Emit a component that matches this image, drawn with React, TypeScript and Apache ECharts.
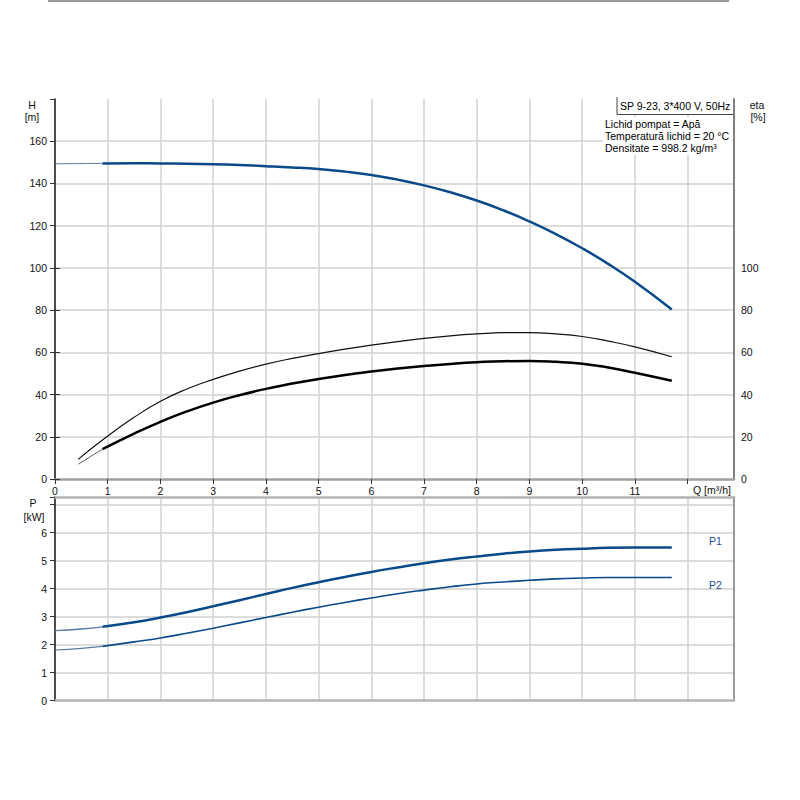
import React, { useEffect, useRef } from 'react';
import * as echarts from 'echarts';

// Flow values (m³/h) where the curves were read; curves drawn thick from 0.9 m³/h on
const THICK_FROM = 0.9;

const Q_H = [0, 0.9, 1.5, 2, 2.5, 3, 3.5, 4, 4.5, 5, 5.5, 6, 6.5, 7, 7.5, 8, 8.5, 9, 9.5, 10, 10.5, 11, 11.7];
const H = [149.3, 149.5, 149.55, 149.5, 149.35, 149.1, 148.7, 148.2, 147.6, 146.8, 145.6, 144.0, 141.8, 139.1, 135.8, 131.9, 127.3, 122.0, 116.0, 109.3, 101.8, 93.4, 80.3];

const Q_ETA = [0.44, 0.9, 1.5, 2, 2.5, 3, 3.5, 4, 4.5, 5, 5.5, 6, 6.5, 7, 7.5, 8, 8.5, 9, 9.5, 10, 10.5, 11, 11.7];
const ETA_UPPER = [9.3, 18.5, 29.2, 36.8, 42.6, 47.2, 51.1, 54.4, 57.1, 59.4, 61.5, 63.4, 65.1, 66.6, 67.8, 68.7, 69.3, 69.3, 68.7, 67.5, 65.3, 62.6, 57.9];
const ETA_LOWER = [7.0, 14.1, 21.5, 27.1, 32.0, 36.2, 39.7, 42.7, 45.2, 47.4, 49.3, 50.9, 52.3, 53.5, 54.5, 55.3, 55.8, 55.9, 55.5, 54.6, 52.8, 50.3, 46.5];

const Q_P = [0, 0.5, 0.9, 1.5, 2, 2.5, 3, 3.5, 4, 4.5, 5, 5.5, 6, 6.5, 7, 7.5, 8, 8.5, 9, 9.5, 10, 10.5, 11, 11.7];
const P1 = [2.50, 2.56, 2.64, 2.80, 2.97, 3.16, 3.37, 3.59, 3.81, 4.03, 4.23, 4.42, 4.60, 4.76, 4.91, 5.04, 5.15, 5.25, 5.33, 5.39, 5.43, 5.46, 5.47, 5.47];
const P2 = [1.81, 1.87, 1.94, 2.10, 2.24, 2.41, 2.59, 2.78, 2.97, 3.16, 3.34, 3.51, 3.67, 3.82, 3.95, 4.07, 4.17, 4.24, 4.30, 4.35, 4.38, 4.40, 4.40, 4.40];

const INFO_TITLE = 'SP 9-23, 3*400 V, 50Hz';
const INFO_LINES = ['Lichid pompat = Apă', 'Temperatură lichid = 20 °C', 'Densitate = 998.2 kg/m³'];

const pairs = (q: number[], v: number[]) => q.map((x, i) => [x, v[i]]);
const thin = (q: number[], v: number[]) => pairs(q, v).filter((p) => p[0] <= THICK_FROM);
const thick = (q: number[], v: number[]) => pairs(q, v).filter((p) => p[0] >= THICK_FROM);

const BLUE = '#0b4a8a';
const BLUE_THIN = '#5a78a0';
const FONT = 'Liberation Sans, Arial, sans-serif';
const FS = 10.5;

const X_MAX = 12.88;

export default function App() {
  const ref = useRef<HTMLDivElement>(null);
  useEffect(() => {
    const chart = echarts.init(ref.current!, null, { renderer: 'svg' });
    const gridLine = { show: true, showMinLine: false, showMaxLine: false, lineStyle: { color: '#d2d2d2', width: 1.5 } };
    const tick = { show: true, length: 5, lineStyle: { color: '#333', width: 1 } };
    const label = { color: '#111', fontSize: FS, fontFamily: FONT };
    const line = (name: string, x: number, y: number, data: any[], color: string, width: number, z = 3) => ({
      type: 'line', name, xAxisIndex: x, yAxisIndex: y, data, smooth: 0.5, symbol: 'none', z,
      lineStyle: { color, width }, silent: true,
    });
    const txt = (x: number, y: number, text: string, extra: any = {}) => ({
      type: 'text', z: 102, x, y,
      style: { text, fontSize: FS, fontFamily: FONT, fill: '#111', verticalAlign: 'middle', ...extra },
    });
    const option: any = {
      animation: false,
      textStyle: { fontFamily: FONT },
      grid: [
        { left: 55, top: 99, width: 679, height: 380 },
        { left: 55, top: 497, width: 679, height: 203.7 },
        { left: 55, top: 479 - 380 * 100 / 180, width: 679, height: 380 * 100 / 180 },
      ],
      xAxis: [
        {
          gridIndex: 0, type: 'value', min: 0, max: X_MAX, interval: 1,
          axisLine: { show: true, onZero: false, lineStyle: { color: '#a0a0a0', width: 2.5 } },
          axisTick: tick,
          axisLabel: { ...label, margin: 6, showMaxLabel: false, formatter: (v: number) => (v <= 11.5 ? String(v) : '') },
          splitLine: gridLine,
        },
        {
          gridIndex: 1, type: 'value', min: 0, max: X_MAX, interval: 1,
          axisLine: { show: true, onZero: false, lineStyle: { color: '#b4b4b4', width: 2.5 } },
          axisTick: { show: false }, axisLabel: { show: false },
          splitLine: gridLine,
        },
        { gridIndex: 2, type: 'value', min: 0, max: X_MAX, show: false },
        {
          gridIndex: 1, type: 'value', min: 0, max: X_MAX, position: 'top',
          axisLine: { show: true, onZero: false, lineStyle: { color: '#b4b4b4', width: 2.5 } },
          axisTick: { show: false }, axisLabel: { show: false }, splitLine: { show: false },
        },
      ],
      yAxis: [
        {
          gridIndex: 0, type: 'value', min: 0, max: 180, interval: 20, position: 'left',
          axisLine: { show: true, onZero: false, lineStyle: { color: '#111', width: 1.5 } },
          axisTick: tick,
          axisLabel: { ...label, margin: 8, formatter: (v: number) => (v <= 160 ? String(v) : '') },
          splitLine: gridLine,
        },
        {
          gridIndex: 0, type: 'value', min: 0, max: 180, position: 'right',
          axisLine: { show: true, onZero: false, lineStyle: { color: '#808080', width: 2 } },
          axisTick: { show: false }, axisLabel: { show: false }, splitLine: { show: false },
        },
        {
          gridIndex: 2, type: 'value', min: 0, max: 100, interval: 20, position: 'right',
          axisLine: { show: false }, axisTick: tick,
          axisLabel: { ...label, margin: 7 }, splitLine: { show: false },
        },
        {
          gridIndex: 1, type: 'value', min: 0, max: 7.275, interval: 1, position: 'left',
          axisLine: { show: true, onZero: false, lineStyle: { color: '#111', width: 1.5 } },
          axisTick: tick,
          axisLabel: { ...label, margin: 8, formatter: (v: number) => (v <= 6 ? String(v) : '') },
          splitLine: { ...gridLine, lineStyle: { color: '#dcdcdc', width: 1.8 } },
        },
        {
          gridIndex: 1, type: 'value', min: 0, max: 7.275, position: 'right',
          axisLine: { show: true, onZero: false, lineStyle: { color: '#9a9a9a', width: 2 } },
          axisTick: { show: false }, axisLabel: { show: false }, splitLine: { show: false },
        },
      ],
      series: [
        line('H ext', 0, 0, thin(Q_H, H), BLUE_THIN, 1),
        line('H', 0, 0, thick(Q_H, H), BLUE, 2.5),
        line('eta upper', 2, 2, pairs(Q_ETA, ETA_UPPER), '#111', 1.2),
        line('eta lower ext', 2, 2, thin(Q_ETA, ETA_LOWER), '#555', 1),
        line('eta lower', 2, 2, thick(Q_ETA, ETA_LOWER), '#000', 2.5),
        line('P1 ext', 1, 3, thin(Q_P, P1), BLUE_THIN, 1.3),
        line('P1', 1, 3, thick(Q_P, P1), BLUE, 2.5),
        line('P2 ext', 1, 3, thin(Q_P, P2), BLUE_THIN, 1.1),
        line('P2', 1, 3, thick(Q_P, P2), BLUE, 1.6),
      ],
      graphic: [
        { type: 'line', z: 100, shape: { x1: 48, y1: 1, x2: 729, y2: 1 }, style: { stroke: '#999', lineWidth: 2 } },
        { type: 'rect', z: 100, shape: { x: 617, y: 97, width: 115, height: 17 }, style: { fill: '#fff' } },
        { type: 'polyline', z: 101, shape: { points: [[617, 97], [617, 114.5], [733, 114.5]] }, style: { stroke: '#444', lineWidth: 1, fill: null } },
        txt(620, 106, INFO_TITLE, { fill: '#000' }),
        { type: 'rect', z: 100, shape: { x: 603, y: 117, width: 129, height: 38 }, style: { fill: '#fff' } },
        ...INFO_LINES.map((t, i) => txt(605, 124 + i * 12, t, { fill: '#000' })),
        txt(32, 105, 'H', { align: 'center' }),
        txt(32, 117, '[m]', { align: 'center' }),
        txt(757, 105, 'eta', { align: 'center' }),
        txt(758, 117, '[%]', { align: 'center' }),
        txt(33, 503, 'P', { align: 'center' }),
        txt(34, 517, '[kW]', { align: 'center' }),
        txt(693, 490, 'Q [m³/h]'),
        txt(709, 541, 'P1', { fill: '#1a4f8a' }),
        txt(709, 585, 'P2', { fill: '#1a4f8a' }),
      ],
    };
    chart.setOption(option);
    return () => chart.dispose();
  }, []);
  return <div ref={ref} style={{ position: 'absolute', left: 0, top: 0, width: 800, height: 800 }} />;
}
